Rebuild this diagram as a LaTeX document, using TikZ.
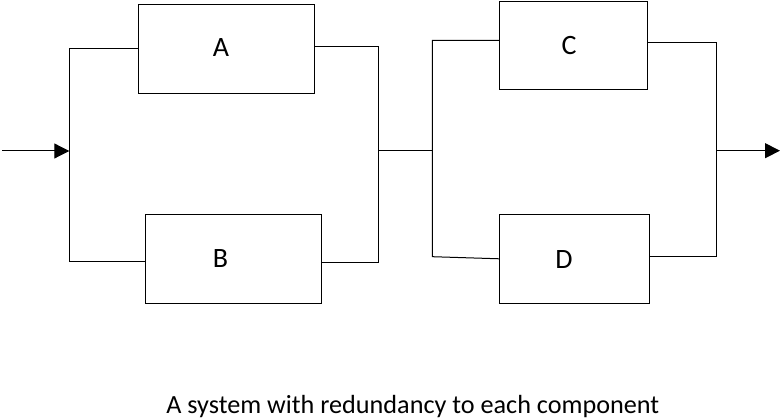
\documentclass[tikz,border=0pt]{standalone}
\usepackage{fontspec}
\setmainfont{Carlito}
\usetikzlibrary{arrows.meta}
\begin{document}
\begin{tikzpicture}[x=1pt,y=-1pt,
  blk/.style={draw,line width=1pt,inner sep=0pt,outer sep=0pt},
  lbl/.style={font=\fontsize{28}{32}\selectfont,inner sep=0pt,anchor=base},
  wire/.style={line width=1pt},
  arr/.style={wire,-{Triangle[length=15pt,width=15pt]}}]
\useasboundingbox (0,0) rectangle (780,419);
% boxes
\node[blk,minimum width=176pt,minimum height=89pt] (A) at (226.3,48.8) {};
\node[blk,minimum width=176pt,minimum height=89pt] (B) at (233.3,258.8) {};
\node[blk,minimum width=148pt,minimum height=88.4pt] (C) at (573.3,45.3) {};
\node[blk,minimum width=150pt,minimum height=89pt] (D) at (574.3,258.8) {};
% labels
\node[lbl] (la) at (221,56.7) {A};
\node[lbl] (lb) at (220.5,267.7) {B};
\node[lbl] (lc) at (569,55) {C};
\node[lbl] (ld) at (564,268.3) {D};
% junction coordinates
\coordinate (in) at (2,151);
\coordinate (j1) at (69.3,151);
\coordinate (l1t) at (69.3,48.7);
\coordinate (l1b) at (69.3,261.3);
\coordinate (r1t) at (378.7,46.3);
\coordinate (r1b) at (378.7,262.3);
\coordinate (m1) at (378.7,150.7);
\coordinate (m2) at (432.3,150.7);
\coordinate (l2t) at (432.3,40.3);
\coordinate (l2b) at (432.3,256.7);
\coordinate (r2t) at (716,42.3);
\coordinate (r2b) at (716,256.3);
\coordinate (o1) at (716,150.7);
\coordinate (out) at (780,150.7);
% wires
\draw[arr] (in) -- (j1);
\draw[wire] (A.west |- l1t) -- (l1t) -- (l1b) -- (B.west |- l1b);
\draw[wire] (A.east |- r1t) -- (r1t) -- (r1b) -- (B.east |- r1b);
\draw[wire] (m1) -- (m2);
\draw[wire] (C.west |- l2t) -- (l2t) -- (l2b) -- (D.west);
\draw[wire] (C.east |- r2t) -- (r2t) -- (r2b) -- (D.east |- r2b);
\draw[arr] (o1) -- (out);
% caption
\node[lbl,font=\fontsize{26.2}{30}\selectfont] (cap) at (412.8,413.3) {A system with redundancy to each component};
\end{tikzpicture}
\end{document}
